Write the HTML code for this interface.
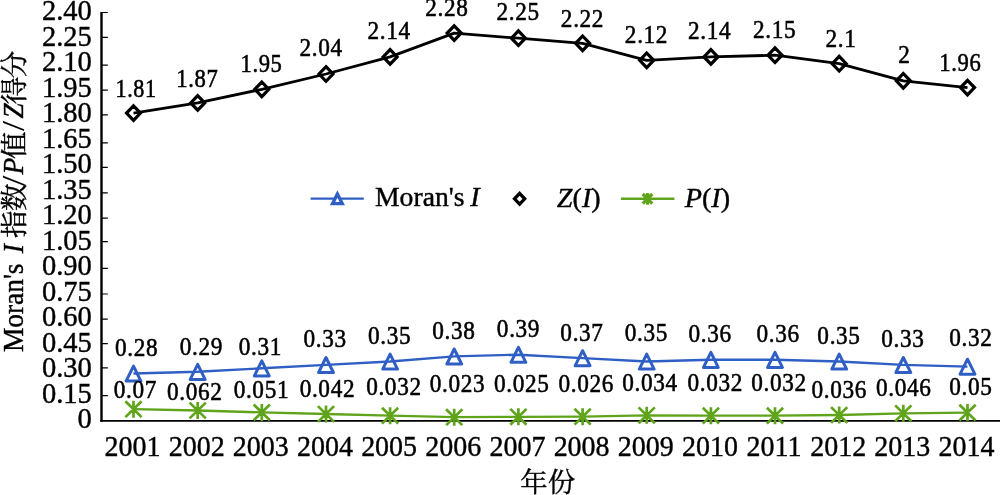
<!DOCTYPE html>
<html lang="zh"><head><meta charset="utf-8"><title>Moran's I</title>
<style>html,body{margin:0;padding:0;background:#fff}svg{display:block}text{font-family:"Liberation Serif","Noto Serif CJK SC",serif;fill:#000}text{stroke:#000;stroke-width:0.4px}.l text{stroke-width:0.55px;letter-spacing:0.7px}text.sl{stroke-width:0.15px}.t{font-size:29px}.i{font-style:italic}</style></head><body>
<svg width="1000" height="495" viewBox="0 0 1000 495">
<rect width="1000" height="495" fill="#fff"/>
<g stroke="#000" fill="none">
<path d="M101.5 11.9V421.7" stroke-width="2.4"/>
<path d="M100.3 420.8H1000" stroke-width="1.8"/>
<path d="M101.5 395.6H107.8M101.5 367.9H107.8M101.5 343.7H107.8M101.5 319.1H107.8M101.5 294.0H107.8M101.5 268.4H107.8M101.5 241.7H107.8M101.5 218.1H107.8M101.5 192.8H107.8M101.5 167.4H107.8M101.5 142.9H107.8M101.5 114.8H107.8M101.5 90.2H107.8M101.5 65.1H107.8M101.5 37.4H107.8M101.5 12.5H107.8" stroke-width="1.2"/>
</g>
<g class="t" text-anchor="end">
<text transform="translate(91.8 428.0) scale(0.980 1)" font-size="29.1" text-anchor="end">0</text>
<text transform="translate(91.8 402.9) scale(0.980 1)" font-size="29.1" text-anchor="end">0.15</text>
<text transform="translate(91.8 377.4) scale(0.980 1)" font-size="29.1" text-anchor="end">0.30</text>
<text transform="translate(91.8 351.8) scale(0.980 1)" font-size="29.1" text-anchor="end">0.45</text>
<text transform="translate(91.8 326.3) scale(0.980 1)" font-size="29.1" text-anchor="end">0.60</text>
<text transform="translate(91.8 300.8) scale(0.980 1)" font-size="29.1" text-anchor="end">0.75</text>
<text transform="translate(91.8 275.3) scale(0.980 1)" font-size="29.1" text-anchor="end">0.90</text>
<text transform="translate(91.8 249.7) scale(0.980 1)" font-size="29.1" text-anchor="end">1.05</text>
<text transform="translate(91.8 224.2) scale(0.980 1)" font-size="29.1" text-anchor="end">1.20</text>
<text transform="translate(91.8 198.7) scale(0.980 1)" font-size="29.1" text-anchor="end">1.35</text>
<text transform="translate(91.8 173.2) scale(0.980 1)" font-size="29.1" text-anchor="end">1.50</text>
<text transform="translate(91.8 147.6) scale(0.980 1)" font-size="29.1" text-anchor="end">1.65</text>
<text transform="translate(91.8 122.1) scale(0.980 1)" font-size="29.1" text-anchor="end">1.80</text>
<text transform="translate(91.8 96.6) scale(0.980 1)" font-size="29.1" text-anchor="end">1.95</text>
<text transform="translate(91.8 71.0) scale(0.980 1)" font-size="29.1" text-anchor="end">2.10</text>
<text transform="translate(91.8 45.5) scale(0.980 1)" font-size="29.1" text-anchor="end">2.25</text>
<text transform="translate(91.8 20.0) scale(0.980 1)" font-size="29.1" text-anchor="end">2.40</text>
</g>
<g class="t" text-anchor="middle">
<text transform="translate(132.5 455.6) scale(0.952 1)" font-size="29.4" text-anchor="middle">2001</text>
<text transform="translate(196.7 455.6) scale(0.952 1)" font-size="29.4" text-anchor="middle">2002</text>
<text transform="translate(260.8 455.6) scale(0.952 1)" font-size="29.4" text-anchor="middle">2003</text>
<text transform="translate(325.0 455.6) scale(0.952 1)" font-size="29.4" text-anchor="middle">2004</text>
<text transform="translate(389.1 455.6) scale(0.952 1)" font-size="29.4" text-anchor="middle">2005</text>
<text transform="translate(453.2 455.6) scale(0.952 1)" font-size="29.4" text-anchor="middle">2006</text>
<text transform="translate(517.4 455.6) scale(0.952 1)" font-size="29.4" text-anchor="middle">2007</text>
<text transform="translate(581.6 455.6) scale(0.952 1)" font-size="29.4" text-anchor="middle">2008</text>
<text transform="translate(645.7 455.6) scale(0.952 1)" font-size="29.4" text-anchor="middle">2009</text>
<text transform="translate(709.9 455.6) scale(0.952 1)" font-size="29.4" text-anchor="middle">2010</text>
<text transform="translate(774.0 455.6) scale(0.952 1)" font-size="29.4" text-anchor="middle">2011</text>
<text transform="translate(838.2 455.6) scale(0.952 1)" font-size="29.4" text-anchor="middle">2012</text>
<text transform="translate(902.3 455.6) scale(0.952 1)" font-size="29.4" text-anchor="middle">2013</text>
<text transform="translate(966.5 455.6) scale(0.952 1)" font-size="29.4" text-anchor="middle">2014</text>
</g>
<text font-size="27.5" text-anchor="middle" x="547.8" y="492.2">年份</text>
<g transform="translate(23.4 0) rotate(-90)"><text transform="translate(-352.1 0) scale(0.935 1)" font-size="29.3">Moran's</text><text transform="translate(-253.2 0) scale(0.935 1)" font-size="29.3" class="i">I</text><text x="-224.3" y="0.8" text-anchor="middle" font-size="27.5">指</text><text x="-197.2" y="0.8" text-anchor="middle" font-size="27.5">数</text><text transform="translate(-180.8 0.8) scale(1.12 1)" text-anchor="middle" font-size="32.5" class="sl">/</text><text transform="translate(-174.6 0) scale(0.935 1)" font-size="29.3" class="i">P</text><text x="-145.3" y="0.8" text-anchor="middle" font-size="27.5">值</text><text transform="translate(-125.9 0.8) scale(1.12 1)" text-anchor="middle" font-size="32.5" class="sl">/</text><text transform="translate(-118.6 0) scale(0.935 1)" font-size="29.3" class="i">Z</text><text x="-90.6" y="0.8" text-anchor="middle" font-size="27.5">得</text><text x="-64.6" y="0.8" text-anchor="middle" font-size="27.5">分</text></g>
<polyline points="133.5,409.2 197.7,410.5 261.8,412.4 326.0,414.0 390.1,415.7 454.2,417.2 518.4,416.8 582.6,416.7 646.7,415.3 710.9,415.7 775.0,415.7 839.2,415.0 903.3,413.3 967.5,412.6" fill="none" stroke="#5fa41a" stroke-width="2.3" stroke-linejoin="round"/>
<path d="M125.4 401.3l16.2 15.8M141.6 401.3l-16.2 15.8M133.5 400.7v17M189.6 402.6l16.2 15.8M205.8 402.6l-16.2 15.8M197.7 402.0v17M253.7 404.5l16.2 15.8M269.9 404.5l-16.2 15.8M261.8 403.9v17M317.9 406.1l16.2 15.8M334.1 406.1l-16.2 15.8M326.0 405.5v17M382.0 407.8l16.2 15.8M398.2 407.8l-16.2 15.8M390.1 407.2v17M446.1 409.3l16.2 15.8M462.4 409.3l-16.2 15.8M454.2 408.7v17M510.3 408.9l16.2 15.8M526.5 408.9l-16.2 15.8M518.4 408.3v17M574.5 408.8l16.2 15.8M590.7 408.8l-16.2 15.8M582.6 408.2v17M638.6 407.4l16.2 15.8M654.8 407.4l-16.2 15.8M646.7 406.8v17M702.8 407.8l16.2 15.8M719.0 407.8l-16.2 15.8M710.9 407.2v17M766.9 407.8l16.2 15.8M783.1 407.8l-16.2 15.8M775.0 407.2v17M831.1 407.1l16.2 15.8M847.3 407.1l-16.2 15.8M839.2 406.5v17M895.2 405.4l16.2 15.8M911.4 405.4l-16.2 15.8M903.3 404.8v17M959.4 404.7l16.2 15.8M975.6 404.7l-16.2 15.8M967.5 404.1v17" fill="none" stroke="#5fa41a" stroke-width="2.7"/>
<polyline points="133.5,373.5 197.7,371.8 261.8,368.3 326.0,364.9 390.1,361.5 454.2,356.4 518.4,354.7 582.6,358.1 646.7,361.5 710.9,359.8 775.0,359.8 839.2,361.5 903.3,364.9 967.5,366.6" fill="none" stroke="#2f5fc4" stroke-width="2.4" stroke-linejoin="round"/>
<path d="M133.5 366.1L140.9 381.1H126.1ZM197.7 364.4L205.1 379.4H190.2ZM261.8 360.9L269.2 375.9H254.4ZM326.0 357.5L333.4 372.5H318.6ZM390.1 354.1L397.5 369.1H382.7ZM454.2 349.0L461.6 364.0H446.9ZM518.4 347.3L525.8 362.3H511.0ZM582.6 350.7L590.0 365.7H575.2ZM646.7 354.1L654.1 369.1H639.3ZM710.9 352.4L718.2 367.4H703.5ZM775.0 352.4L782.4 367.4H767.6ZM839.2 354.1L846.6 369.1H831.8ZM903.3 357.5L910.7 372.5H895.9ZM967.5 359.2L974.9 374.2H960.1Z" fill="none" stroke="#2f5fc4" stroke-width="3" stroke-linejoin="round"/>
<path d="M133.5 105.8l7.0 7.3l-7.0 7.3l-7.0 -7.3ZM197.7 95.6l7.0 7.3l-7.0 7.3l-7.0 -7.3ZM261.8 82.0l7.0 7.3l-7.0 7.3l-7.0 -7.3ZM326.0 66.7l7.0 7.3l-7.0 7.3l-7.0 -7.3ZM390.1 49.6l7.0 7.3l-7.0 7.3l-7.0 -7.3ZM454.2 25.8l7.0 7.3l-7.0 7.3l-7.0 -7.3ZM518.4 30.9l7.0 7.3l-7.0 7.3l-7.0 -7.3ZM582.6 36.0l7.0 7.3l-7.0 7.3l-7.0 -7.3ZM646.7 53.0l7.0 7.3l-7.0 7.3l-7.0 -7.3ZM710.9 49.6l7.0 7.3l-7.0 7.3l-7.0 -7.3ZM775.0 47.9l7.0 7.3l-7.0 7.3l-7.0 -7.3ZM839.2 56.4l7.0 7.3l-7.0 7.3l-7.0 -7.3ZM903.3 73.5l7.0 7.3l-7.0 7.3l-7.0 -7.3ZM967.5 80.3l7.0 7.3l-7.0 7.3l-7.0 -7.3Z" fill="none" stroke="#000" stroke-width="3.2"/>
<polyline points="133.5,113.1 197.7,102.9 261.8,89.3 326.0,74.0 390.1,56.9 454.2,33.1 518.4,38.2 582.6,43.3 646.7,60.3 710.9,56.9 775.0,55.2 839.2,63.7 903.3,80.8 967.5,87.6" fill="none" stroke="#000" stroke-width="2.8" stroke-linejoin="round"/>
<g class="l">
<text transform="translate(136.1 96.6) scale(0.885 1)" font-size="25.0" text-anchor="middle">1.81</text>
<text transform="translate(197.4 86.6) scale(0.905 1)" font-size="25.0" text-anchor="middle">1.87</text>
<text transform="translate(261.5 72.3) scale(0.905 1)" font-size="25.0" text-anchor="middle">1.95</text>
<text transform="translate(321.2 56.2) scale(0.930 1)" font-size="25.0" text-anchor="middle">2.04</text>
<text transform="translate(389.1 39.4) scale(0.930 1)" font-size="25.0" text-anchor="middle">2.14</text>
<text transform="translate(446.8 16.4) scale(0.930 1)" font-size="25.0" text-anchor="middle">2.28</text>
<text transform="translate(518.2 20.2) scale(0.930 1)" font-size="25.0" text-anchor="middle">2.25</text>
<text transform="translate(582.5 26.5) scale(0.930 1)" font-size="25.0" text-anchor="middle">2.22</text>
<text transform="translate(646.5 43.4) scale(0.930 1)" font-size="25.0" text-anchor="middle">2.12</text>
<text transform="translate(709.6 39.4) scale(0.930 1)" font-size="25.0" text-anchor="middle">2.14</text>
<text transform="translate(774.6 37.9) scale(0.930 1)" font-size="25.0" text-anchor="middle">2.15</text>
<text transform="translate(841.1 47.4) scale(0.930 1)" font-size="25.0" text-anchor="middle">2.1</text>
<text transform="translate(904.5 63.4) scale(0.930 1)" font-size="25.0" text-anchor="middle">2</text>
<text transform="translate(960.4 71.0) scale(0.905 1)" font-size="25.0" text-anchor="middle">1.96</text>
<text transform="translate(136.7 356.3) scale(0.930 1)" font-size="25.0" text-anchor="middle">0.28</text>
<text transform="translate(201.3 354.5) scale(0.930 1)" font-size="25.0" text-anchor="middle">0.29</text>
<text transform="translate(260.4 354.9) scale(0.930 1)" font-size="25.0" text-anchor="middle">0.31</text>
<text transform="translate(325.2 347.2) scale(0.930 1)" font-size="25.0" text-anchor="middle">0.33</text>
<text transform="translate(389.7 344.2) scale(0.930 1)" font-size="25.0" text-anchor="middle">0.35</text>
<text transform="translate(453.8 339.3) scale(0.930 1)" font-size="25.0" text-anchor="middle">0.38</text>
<text transform="translate(518.5 336.7) scale(0.930 1)" font-size="25.0" text-anchor="middle">0.39</text>
<text transform="translate(582.0 340.8) scale(0.930 1)" font-size="25.0" text-anchor="middle">0.37</text>
<text transform="translate(646.4 340.8) scale(0.930 1)" font-size="25.0" text-anchor="middle">0.35</text>
<text transform="translate(710.2 341.8) scale(0.930 1)" font-size="25.0" text-anchor="middle">0.36</text>
<text transform="translate(778.1 341.8) scale(0.930 1)" font-size="25.0" text-anchor="middle">0.36</text>
<text transform="translate(839.0 344.0) scale(0.930 1)" font-size="25.0" text-anchor="middle">0.35</text>
<text transform="translate(902.8 346.8) scale(0.930 1)" font-size="25.0" text-anchor="middle">0.33</text>
<text transform="translate(970.9 345.8) scale(0.930 1)" font-size="25.0" text-anchor="middle">0.32</text>
<text transform="translate(135.3 398.3) scale(0.930 1)" font-size="25.0" text-anchor="middle">0.07</text>
<text transform="translate(194.8 400.3) scale(0.930 1)" font-size="25.0" text-anchor="middle">0.062</text>
<text transform="translate(261.4 398.3) scale(0.930 1)" font-size="25.0" text-anchor="middle">0.051</text>
<text transform="translate(327.4 396.7) scale(0.930 1)" font-size="25.0" text-anchor="middle">0.042</text>
<text transform="translate(393.9 394.7) scale(0.930 1)" font-size="25.0" text-anchor="middle">0.032</text>
<text transform="translate(457.6 392.3) scale(0.930 1)" font-size="25.0" text-anchor="middle">0.023</text>
<text transform="translate(521.8 392.3) scale(0.930 1)" font-size="25.0" text-anchor="middle">0.025</text>
<text transform="translate(586.3 392.3) scale(0.930 1)" font-size="25.0" text-anchor="middle">0.026</text>
<text transform="translate(650.1 390.7) scale(0.930 1)" font-size="25.0" text-anchor="middle">0.034</text>
<text transform="translate(715.2 391.3) scale(0.930 1)" font-size="25.0" text-anchor="middle">0.032</text>
<text transform="translate(779.1 391.3) scale(0.930 1)" font-size="25.0" text-anchor="middle">0.032</text>
<text transform="translate(839.2 397.5) scale(0.930 1)" font-size="25.0" text-anchor="middle">0.036</text>
<text transform="translate(903.8 395.7) scale(0.930 1)" font-size="25.0" text-anchor="middle">0.046</text>
<text transform="translate(970.9 394.7) scale(0.930 1)" font-size="25.0" text-anchor="middle">0.05</text>
</g>
<path d="M310.6 198.6H363.8" stroke="#2f5fc4" stroke-width="2.4"/>
<path d="M337.4 194.0L342.2 203.6H332.6Z" fill="#fff" stroke="#2f5fc4" stroke-width="3.4"/>
<text font-size="28.2" y="206.4"><tspan x="375" textLength="89.5" lengthAdjust="spacingAndGlyphs">Moran's</tspan> <tspan x="470.2" class="i">I</tspan></text>
<path d="M519.6 193.4l5.1 5.4l-5.1 5.4l-5.1 -5.4Z" fill="#fff" stroke="#000" stroke-width="3.3"/>
<text font-size="28.2" x="556.8" y="206.6"><tspan class="i">Z</tspan>(<tspan class="i">I</tspan>)</text>
<path d="M620.9 198.8H674.4" stroke="#5fa41a" stroke-width="2.4"/>
<path d="M642.7 194l9.6 9.6M652.3 194l-9.6 9.6M647.5 193v11.8" fill="none" stroke="#5fa41a" stroke-width="3.2"/>
<text font-size="28.2" x="684.7" y="206.6"><tspan class="i">P</tspan>(<tspan class="i">I</tspan>)</text>
</svg></body></html>
